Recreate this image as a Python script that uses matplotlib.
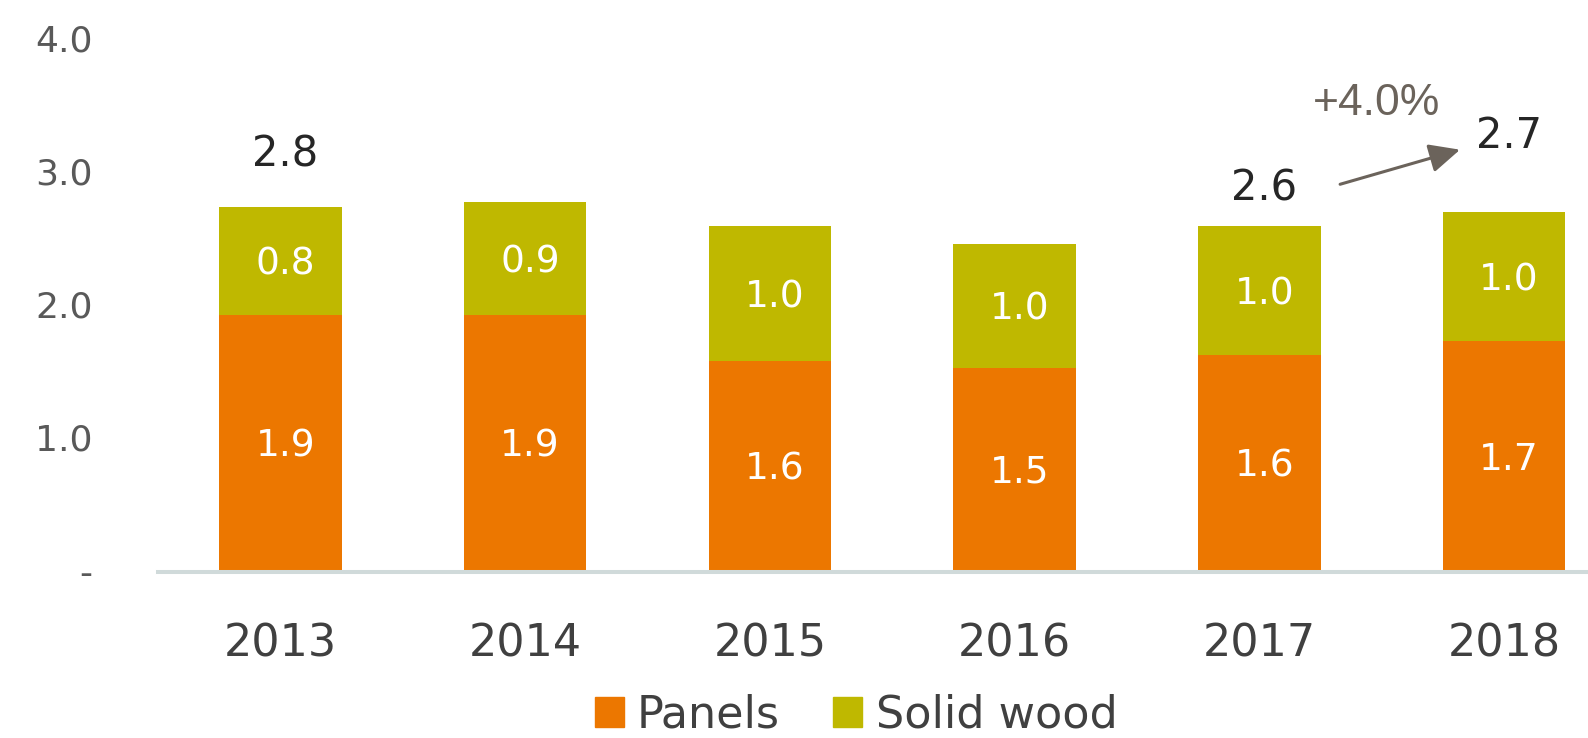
import numpy as np
import matplotlib.pyplot as plt
from matplotlib.patches import Patch

# ---------- Data ----------
years = ['2013', '2014', '2015', '2016', '2017', '2018']
panels = [1.92, 1.92, 1.57, 1.52, 1.62, 1.72]
solid_wood = [0.81, 0.85, 1.02, 0.93, 0.97, 0.97]
panel_labels = ['1.9', '1.9', '1.6', '1.5', '1.6', '1.7']
solid_labels = ['0.8', '0.9', '1.0', '1.0', '1.0', '1.0']

# totals shown above some bars: (bar index, label)
total_idx = [0, 4, 5]
total_labels = ['2.8', '2.6', '2.7']
growth_label = '+4.0%'

ytick_vals = [0, 1, 2, 3, 4]
ytick_labels = ['-', '1.0', '2.0', '3.0', '4.0']

# ---------- Style ----------
c_panels = '#EC7700'
c_solid = '#BFB800'
c_arrow = '#6B635B'

fig = plt.figure(figsize=(15.88, 7.38), dpi=100)
ax = fig.add_axes([0.0995, 0.2249, 0.9005, 0.748])

x = np.arange(len(years))
ax.bar(x, panels, width=0.5, color=c_panels, zorder=1)
ax.bar(x, solid_wood, width=0.5, bottom=panels, color=c_solid, zorder=1)

for i in range(len(years)):
    ax.text(x[i] + 0.02, panels[i] / 2, panel_labels[i], ha='center', va='center_baseline',
            color='white', fontsize=27)
    ax.text(x[i] + 0.02, panels[i] + solid_wood[i] / 2, solid_labels[i], ha='center',
            va='center_baseline', color='white', fontsize=27)

# total labels (baseline heights above bar tops)
total_gap = [0.30, 0.19, 0.48]
for k, i in enumerate(total_idx):
    top = panels[i] + solid_wood[i]
    ax.text(x[i] + 0.02, top + total_gap[k], total_labels[k], ha='center',
            va='baseline', color='#262626', fontsize=30)

# growth arrow 2017 -> 2018
ax.annotate('', xy=(4.82, 3.16), xytext=(4.33, 2.90),
            arrowprops=dict(arrowstyle='-|>,head_length=0.85,head_width=0.4',
                            color=c_arrow, lw=2.2, shrinkA=0, shrinkB=0,
                            mutation_scale=22))
ax.text(4.48, 3.42, growth_label, ha='center', va='baseline', color=c_arrow,
        fontsize=32, family='Liberation Sans')

ax.set_xlim(-0.5006, 5.343)
ax.set_ylim(-0.015, 4.135)
ax.set_xticks(x)
ax.set_xticklabels(years, fontsize=32, color='#404040')
ax.tick_params(axis='x', length=0, pad=36)
ax.set_yticks(ytick_vals)
ax.set_yticklabels(ytick_labels, fontsize=26, color='#595959')
ax.tick_params(axis='y', length=0, pad=47)
for s in ['top', 'right', 'left']:
    ax.spines[s].set_visible(False)
ax.spines['bottom'].set_color('#D0DADA')
ax.spines['bottom'].set_linewidth(2.9)

handles = [Patch(color=c_panels, label='Panels'), Patch(color=c_solid, label='Solid wood')]
fig.legend(handles=handles, loc='center', bbox_to_anchor=(856 / 1588, 1 - 715 / 738),
           ncol=2, frameon=False, fontsize=32, handlelength=0.65, handleheight=0.65,
           handletextpad=0.3, columnspacing=1.2, borderpad=0, labelcolor='#404040')

fig.savefig('out.png', dpi=100)
